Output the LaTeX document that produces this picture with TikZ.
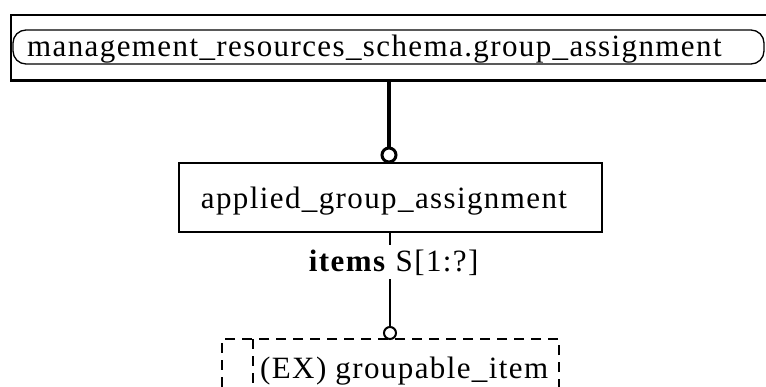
\documentclass[tikz,border=0pt]{standalone}
\usepackage{fontspec}
\setmainfont{Liberation Serif}[LetterSpace=4.5]
\begin{document}
\begin{tikzpicture}[x=1pt,y=-1pt,
  boxline/.style={draw, line width=1.5pt, inner sep=0pt},
  dashline/.style={draw, line width=1.5pt, dash pattern=on 10pt off 7pt},
  txt/.style={font=\fontsize{31}{36}\selectfont, inner sep=0pt},
  ring/.style={circle, draw, fill=white, inner sep=0pt},
  thickconn/.style={line width=4pt},
  thinconn/.style={line width=2pt}]
\useasboundingbox (0,0) rectangle (766,386);
\clip (0,0) rectangle (766,386);
\fill[white] (0,0) rectangle (766,386);
% top schema box
\node[boxline, minimum width=761pt, minimum height=65pt] (schemabox) at (391.5,47.5) {};
\draw[line width=2.5pt] (schemabox.south west) -- (schemabox.south east);
\node[boxline, line width=1.3pt, rounded corners=13pt, minimum width=751pt, minimum height=34pt] (schema) at (388.5,47) {};
\node[txt, anchor=base west] (schematext) at (27,56) {management\_resources\_schema.group\_assignment};
% entity box
\node[boxline, minimum width=423pt, minimum height=69pt] (entity) at (390.5,197.5) {};
\node[txt, anchor=base] (entitytext) at (384,208) {applied\_group\_assignment};
% select box (dashed)
\node[dashline, inner sep=0pt, minimum width=337pt, minimum height=70pt] (sel) at (390.5,374) {};
\coordinate (seltop) at (253,339);
\draw[dashline] (seltop) -- (seltop |- sel.south);
\node[txt, anchor=base west] (seltext) at (260,378.5) {(EX) groupable\_item};
% rings
\node[ring, line width=3pt, minimum size=14pt] (c1) at (389,155) {};
\node[ring, line width=2pt, minimum size=12pt] (c2) at (390,333) {};
% connectors
\draw[thickconn] (c1.north |- schemabox.south) -- (c1.north);
\draw[thinconn] (entity.south -| c2.north) -- (c2.north);
\node[txt, anchor=base, fill=white, inner xsep=1pt, inner ysep=4pt] (itemslab) at (393.7,271) {\textbf{items} S[1:?]};
\end{tikzpicture}
\end{document}
